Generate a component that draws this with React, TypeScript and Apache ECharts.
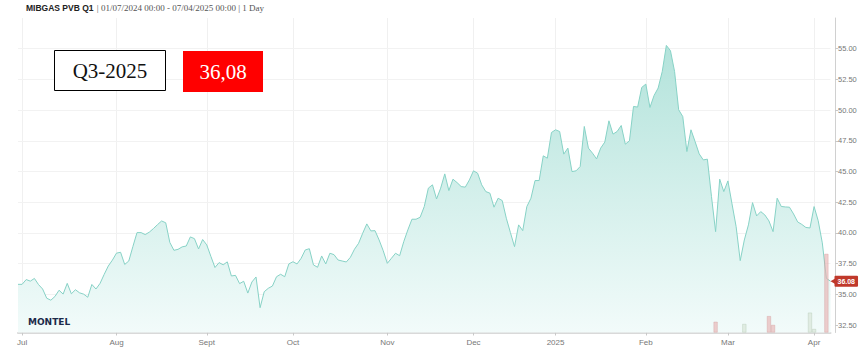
import React, { useEffect, useRef } from 'react';
import * as echarts from 'echarts';

// ---- data ----
const START_DATE = '2024-06-28';
const END_DATE = '2025-04-07';
const HOLIDAYS = ['2024-12-25', '2024-12-26', '2025-01-01'];
// label for each month (index 0 = January)
const MONTH_LABELS = ['2025', 'Feb', 'Mar', 'Apr', 'May', 'Jun', 'Jul', 'Aug', 'Sept', 'Oct', 'Nov', 'Dec'];

const PRICES = [
  35.82, 35.82, 36.21, 36.08, 36.30, 35.80, 35.44, 34.69, 34.53, 34.83,
  35.34, 35.03, 35.90, 35.05, 35.38, 35.13, 35.02, 34.77, 35.81, 35.44,
  35.90, 36.63, 37.31, 37.79, 38.36, 38.43, 37.44, 37.72, 38.90, 40.03,
  40.03, 39.87, 40.07, 40.36, 40.68, 40.98, 40.83, 39.23, 38.59, 38.67,
  38.87, 38.94, 39.68, 39.54, 38.70, 39.47, 39.03, 38.10, 37.19, 37.59,
  37.41, 37.65, 36.50, 36.55, 35.88, 36.07, 35.11, 36.01, 36.42, 33.92,
  35.22, 35.50, 35.68, 36.44, 36.64, 36.44, 37.48, 37.66, 37.48, 37.94,
  38.62, 38.72, 37.40, 37.21, 38.13, 37.48, 38.35, 38.24, 37.80, 37.72,
  37.64, 38.02, 38.68, 39.16, 39.98, 40.74, 40.17, 40.19, 39.43, 38.56,
  37.53, 37.94, 38.35, 38.15, 39.29, 40.25, 41.12, 41.12, 41.28, 42.15,
  43.65, 43.92, 42.77, 43.65, 44.81, 43.45, 44.38, 44.10, 43.78, 43.73,
  44.32, 45.06, 44.87, 43.92, 43.37, 43.24, 42.10, 42.83, 42.64, 41.20,
  40.03, 38.89, 40.66, 40.19, 42.15, 42.83, 44.27, 44.27, 46.28, 46.09,
  48.18, 48.40, 48.26, 46.42, 46.91, 45.00, 45.06, 45.41, 48.67, 46.91,
  46.50, 46.03, 46.91, 47.40, 49.13, 48.05, 48.26, 48.75, 47.23, 47.50,
  50.30, 50.25, 51.85, 52.12, 50.22, 51.19, 51.80, 53.15, 55.27, 54.84,
  53.15, 50.03, 49.48, 46.63, 48.40, 47.44, 46.44, 45.95, 46.01, 42.96,
  40.11, 44.38, 43.37, 44.24, 42.37, 40.52, 37.75, 39.43, 40.66, 42.47,
  41.39, 41.74, 41.47, 40.98, 40.11, 42.83, 42.16, 42.12, 42.10, 41.55,
  40.90, 40.70, 40.45, 40.41, 42.15, 41.00, 39.20, 36.30, 36.08,
];

const Y_TICKS = [32.5, 35, 37.5, 40, 42.5, 45, 47.5, 50, 52.5, 55];

const VOL_RED_DATES = ['2025-02-26', '2025-03-17', '2025-03-18', '2025-04-04'];
const VOL_RED = [3.4, 5.2, 2.4, 25];
const VOL_GREEN_DATES = ['2025-03-07', '2025-03-31', '2025-04-01'];
const VOL_GREEN = [2.7, 6.3, 1.1];

const CONTRACT = 'Q3-2025';
const LAST_PRICE_TEXT = '36,08';

function tradingDays(start: string, end: string, holidays: string[]): string[] {
  const out: string[] = [];
  const d = new Date(start + 'T00:00:00Z');
  const e = new Date(end + 'T00:00:00Z');
  while (d.getTime() <= e.getTime()) {
    const wd = d.getUTCDay();
    const s = d.toISOString().slice(0, 10);
    if (wd !== 0 && wd !== 6 && holidays.indexOf(s) < 0) out.push(s);
    d.setUTCDate(d.getUTCDate() + 1);
  }
  return out;
}

const CATEGORIES = tradingDays(START_DATE, END_DATE, HOLIDAYS);

function isMonthStart(i: number): boolean {
  if (i <= 0) return false;
  return CATEGORIES[i].slice(5, 7) !== CATEGORIES[i - 1].slice(5, 7);
}

export default function App() {
  const ref = useRef<HTMLDivElement>(null);
  useEffect(() => {
    if (!ref.current) return;
    const chart = echarts.init(ref.current, null, { renderer: 'svg' });

    const redData = CATEGORIES.map((c) => {
      const k = VOL_RED_DATES.indexOf(c);
      return k >= 0 ? VOL_RED[k] : '-';
    });
    const greenData = CATEGORIES.map((c) => {
      const k = VOL_GREEN_DATES.indexOf(c);
      return k >= 0 ? VOL_GREEN[k] : '-';
    });
    const lastIdx = PRICES.length - 1;
    const lastVal = PRICES[lastIdx];

    const gridLines = Y_TICKS.map((t) => ({
      yAxis: t,
      label: { show: false },
      lineStyle: { color: '#f2f2f2', width: 1, type: 'solid' },
    }));

    chart.setOption({
      animation: false,
      backgroundColor: '#ffffff',
      grid: { left: 18, right: 36.5, top: 18, bottom: 21.5, containLabel: false },
      xAxis: {
        type: 'category',
        data: CATEGORIES,
        boundaryGap: false,
        axisLine: { show: true, lineStyle: { color: '#d9d9d9', width: 2 } },
        axisTick: {
          show: true,
          interval: (i: number) => isMonthStart(i),
          length: 3,
          lineStyle: { color: '#c8c8c8' },
        },
        axisLabel: {
          interval: (i: number) => isMonthStart(i),
          formatter: (v: string) => MONTH_LABELS[parseInt(v.slice(5, 7), 10) - 1],
          color: '#777',
          fontSize: 8,
          fontFamily: 'Liberation Sans',
          margin: 6,
        },
        splitLine: {
          show: true,
          interval: (i: number) => isMonthStart(i),
          lineStyle: { color: '#f0f0f0', width: 1 },
        },
      },
      yAxis: [
        {
          type: 'value',
          position: 'right',
          offset: 4.5,
          min: 31.9,
          max: 57.5,
          axisLine: { show: true, lineStyle: { color: '#d0d0d0' } },
          axisTick: { show: true, length: 3, customValues: Y_TICKS, lineStyle: { color: '#c8c8c8' } },
          axisLabel: {
            customValues: Y_TICKS,
            formatter: (v: number) => v.toFixed(2),
            color: '#777',
            fontSize: 7.5,
            fontFamily: 'Liberation Sans',
            margin: 3,
          },
          splitLine: { show: false },
        },
        {
          type: 'value',
          min: 0,
          max: 100,
          show: false,
          splitLine: { show: false },
        },
      ],
      series: [
        {
          type: 'line',
          data: PRICES,
          yAxisIndex: 0,
          symbol: 'none',
          lineStyle: { color: '#87d2c6', width: 1 },
          areaStyle: {
            color: {
              type: 'linear', x: 0, y: 0, x2: 0, y2: 1,
              colorStops: [
                { offset: 0, color: '#b3e3db' },
                { offset: 1, color: '#f2fbfa' },
              ],
            },
            opacity: 1,
          },
          z: 3,
          markLine: {
            silent: true,
            symbol: 'none',
            label: { show: false },
            data: gridLines,
            z: 1,
          },
          markPoint: {
            silent: true,
            symbol: 'triangle',
            symbolSize: [7, 6],
            symbolRotate: 90,
            symbolOffset: [3, 0],
            itemStyle: { color: '#c0392b' },
            label: { show: false },
            data: [{ coord: [lastIdx, lastVal] }],
          },
        },
        {
          type: 'line',
          data: PRICES.map((v, i) => (i === lastIdx ? v : '-')),
          yAxisIndex: 0,
          symbol: 'none',
          showSymbol: false,
          lineStyle: { width: 0 },
          endLabel: {
            show: true,
            distance: 4,
            formatter: () => lastVal.toFixed(2),
            backgroundColor: '#c0392b',
            color: '#fff',
            fontSize: 7,
            fontWeight: 'bold',
            fontFamily: 'Liberation Sans',
            padding: [2, 3, 2, 3],
            borderRadius: 1,
          },
          z: 8,
        },
        {
          type: 'bar',
          data: redData,
          yAxisIndex: 1,
          barWidth: 4,
          barGap: '-100%',
          itemStyle: { color: 'rgba(232,180,180,0.65)', borderColor: 'rgba(210,150,150,0.7)', borderWidth: 0.5 },
          z: 4,
        },
        {
          type: 'bar',
          data: greenData,
          yAxisIndex: 1,
          barWidth: 4,
          barGap: '-100%',
          itemStyle: { color: 'rgba(220,232,220,0.8)', borderColor: 'rgba(180,200,180,0.8)', borderWidth: 0.5 },
          z: 4,
        },
      ],
      graphic: [
        {
          type: 'text',
          left: 26,
          top: 2,
          style: {
            text: '{b|MIBGAS PVB Q1} {n|| 01/07/2024 00:00 - 07/04/2025 00:00 | 1 Day}',
            rich: {
              b: { fontFamily: 'Liberation Sans', fontWeight: 'bold', fontSize: 8.5, fill: '#222' },
              n: { fontFamily: 'Liberation Serif', fontSize: 9, fill: '#555' },
            },
          },
        },
        {
          type: 'rect',
          shape: { x: 54.5, y: 50.5, width: 111, height: 40 },
          style: { fill: '#fff', stroke: '#000', lineWidth: 1 },
          z: 10,
        },
        {
          type: 'text',
          x: 110,
          y: 71,
          style: {
            text: CONTRACT,
            fontFamily: 'Liberation Serif',
            fontSize: 21,
            fill: '#111',
            align: 'center',
            verticalAlign: 'middle',
          },
          z: 11,
        },
        {
          type: 'rect',
          shape: { x: 183, y: 51, width: 80, height: 41 },
          style: { fill: '#ff0000' },
          z: 10,
        },
        {
          type: 'text',
          x: 223,
          y: 71.5,
          style: {
            text: LAST_PRICE_TEXT,
            fontFamily: 'Liberation Serif',
            fontSize: 21,
            fill: '#fff',
            align: 'center',
            verticalAlign: 'middle',
          },
          z: 11,
        },
        {
          type: 'text',
          x: 28,
          y: 322,
          style: {
            text: 'MONTEL',
            fontFamily: 'DejaVu Sans',
            fontWeight: 'bold',
            fontSize: 9,
            fill: '#1c2b4a',
            verticalAlign: 'middle',
          },
          z: 11,
        },
      ],
    });
    return () => chart.dispose();
  }, []);
  return <div ref={ref} style={{ position: 'fixed', left: 0, top: 0, width: 867, height: 354 }} />;
}
